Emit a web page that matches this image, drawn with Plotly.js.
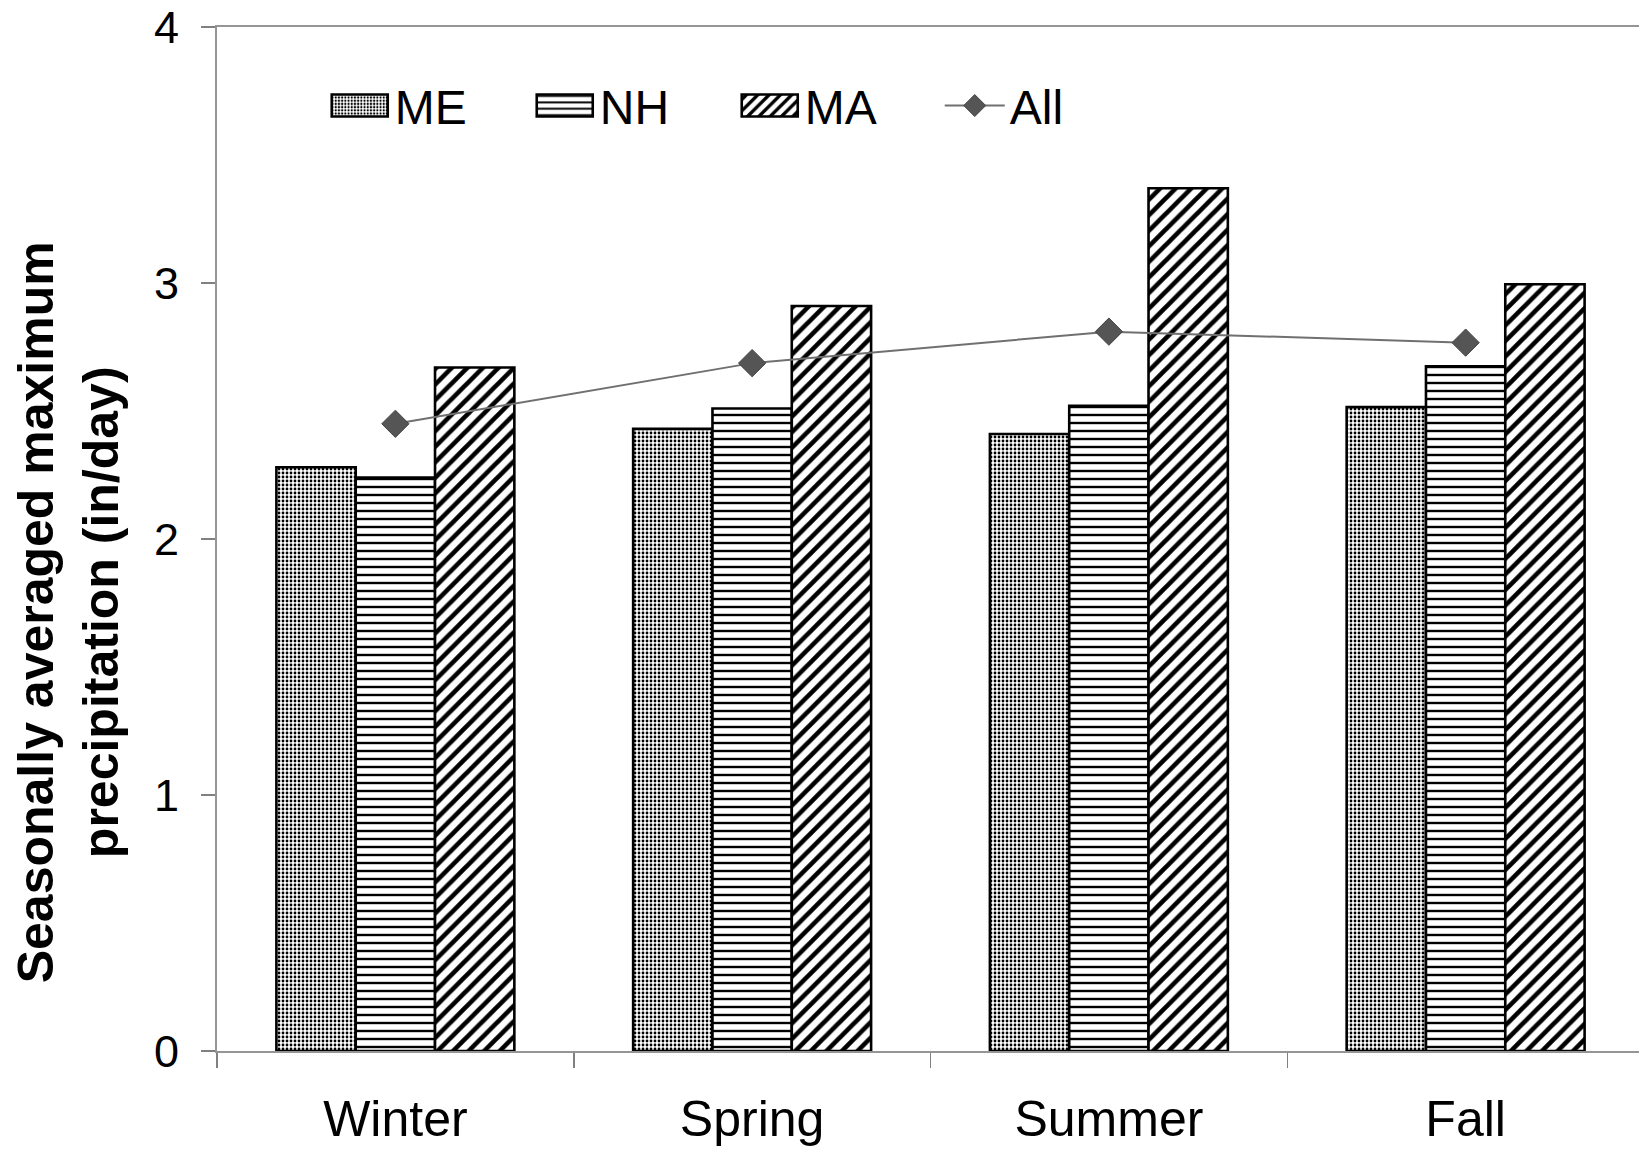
<!DOCTYPE html>
<html>
<head>
<meta charset="utf-8">
<script src="https://cdn.plot.ly/plotly-3.0.1.min.js"></script>
<style>
  html, body { margin: 0; padding: 0; background: #fff; overflow: hidden; }
  #chart { width: 1644px; height: 1151px; }
</style>
</head>
<body>
<div id="chart"></div>
<script>
// Seasons on the category axis
const seasons = ["Winter", "Spring", "Summer", "Fall"];

// Seasonally averaged maximum precipitation (in/day) per state
const meValues = [2.28, 2.43, 2.41, 2.515];
const nhValues = [2.24, 2.51, 2.52, 2.675];
const maValues = [2.67, 2.91, 3.37, 2.995];
// Average over all stations
const allValues = [2.45, 2.687, 2.81, 2.767];

const yTicks = [0, 1, 2, 3, 4];

const FONT = "Liberation Sans, Arial, Helvetica, sans-serif";

function barTrace(name, values, shape, size, solidity) {
  return {
    type: "bar",
    name: name,
    x: seasons,
    y: values,
    marker: {
      color: "#ffffff",
      line: { color: "#000000", width: 2.6 },
      pattern: { shape: shape, size: size, solidity: solidity, fgcolor: "#000000", bgcolor: "#ffffff", fillmode: "replace" }
    },
    hoverinfo: "x+y+name"
  };
}

const traces = [
  barTrace("ME", meValues, ".", 4, 0.38),
  barTrace("NH", nhValues, "-", 8, 0.3),
  barTrace("MA", maValues, "/", 11, 0.42),
  {
    type: "scatter",
    mode: "lines+markers",
    name: "All",
    x: seasons,
    y: allValues,
    line: { color: "#707070", width: 2 },
    marker: { symbol: "diamond", size: 21, color: "#555555", line: { color: "#444444", width: 1 } }
  }
];

const layout = {
  width: 1644,
  height: 1151,
  margin: { l: 217, r: 0, t: 27, b: 100, pad: 0 },
  paper_bgcolor: "#ffffff",
  plot_bgcolor: "#ffffff",
  barmode: "group",
  bargap: 0.333,
  bargroupgap: 0,
  font: { family: FONT, color: "#000000" },
  showlegend: true,
  legend: {
    orientation: "h",
    x: 0.0755,
    xanchor: "left",
    y: 0.923,
    yanchor: "middle",
    font: { family: FONT, size: 48, color: "#000000" },
    bgcolor: "rgba(0,0,0,0)",
    itemwidth: 60,
    entrywidth: 130,
    entrywidthmode: "pixels",
    traceorder: "normal"
  },
  xaxis: {
    type: "category",
    range: [-0.5, 3.5],
    tickson: "boundaries",
    ticks: "outside",
    ticklen: 15,
    tickwidth: 1.5,
    tickcolor: "#808080",
    showline: true,
    linecolor: "#959595",
    linewidth: 2,
    mirror: true,
    showgrid: false,
    zeroline: false,
    tickfont: { family: FONT, size: 50, color: "#000000" },
    ticklabelstandoff: 23
  },
  yaxis: {
    range: [0, 4],
    tickvals: yTicks,
    ticktext: yTicks.map(String),
    ticks: "outside",
    ticklen: 14,
    tickwidth: 1.5,
    tickcolor: "#808080",
    showline: true,
    linecolor: "#959595",
    linewidth: 2,
    mirror: true,
    showgrid: false,
    zeroline: false,
    tickfont: { family: FONT, size: 45, color: "#000000" },
    ticklabelstandoff: 13,
    ticklabeloverflow: "allow"
  },
  annotations: [
    {
      xref: "paper",
      yref: "paper",
      x: -0.1040,
      y: 0.428,
      xanchor: "center",
      yanchor: "middle",
      textangle: -90,
      showarrow: false,
      align: "center",
      text: "<b>Seasonally averaged maximum<br>precipitation (in/day)</b>",
      font: { family: FONT, size: 50, color: "#000000" }
    }
  ]
};

Plotly.newPlot("chart", traces, layout, { staticPlot: true, displayModeBar: false }).then(function (gd) {
  // Flat rectangular keys for the bar series, a larger diamond for the line key
  gd.querySelectorAll(".legend .traces .legendpoints path").forEach(function (p) {
    if (p.classList.contains("scatterpts")) {
      p.setAttribute("d", "M11,0L0,11L-11,0L0,-11Z");
      return;
    }
    p.setAttribute("d", "M28,11H-28V-11H28Z");
  });
});
</script>
</body>
</html>
